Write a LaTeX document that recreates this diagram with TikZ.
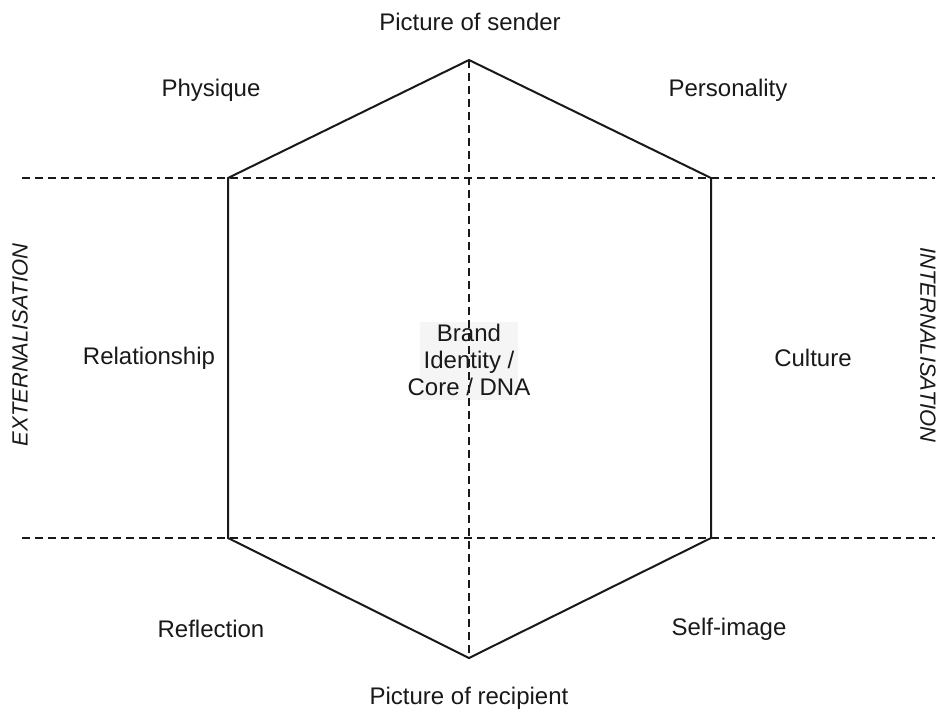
\documentclass[tikz,border=0pt]{standalone}
\usepackage{fontspec}
\setmainfont{Liberation Sans}
\begin{document}
\begin{tikzpicture}[x=1pt,y=-1pt,
  lbl/.style={font=\fontsize{24}{28}\selectfont, text=black!90, inner sep=0pt},
  side/.style={font=\fontsize{22}{26}\selectfont\itshape, text=black!90, inner sep=0pt},
  hexline/.style={line width=2pt, black!90, line join=miter},
  guide/.style={line width=1.7pt, black!90, dash pattern=on 8pt off 5pt}]
\useasboundingbox (0,0) rectangle (943,716);

% hexagon corners
\coordinate (T) at (469,60);
\coordinate (UR) at (711,178);
\coordinate (LR) at (711,538);
\coordinate (B) at (469,658);
\coordinate (LL) at (228,538);
\coordinate (UL) at (228,178);

% guide line ends
\coordinate (gl1) at (22,178);
\coordinate (gr1) at (935,178);
\coordinate (gl2) at (22,538);
\coordinate (gr2) at (935,538);

% core box behind the centre label
\fill[black!4] (420,322) rectangle (518,400);

% dashed guides
\draw[guide] (gl1) -- (gr1);
\draw[guide] (gl2) -- (gr2);
\draw[guide] (T) -- (B);

% hexagon
\draw[hexline] (T) -- (UR) -- (LR) -- (B) -- (LL) -- (UL) -- cycle;

% centre label
\node[lbl, align=center, font=\fontsize{24}{27}\selectfont] (core) at (469,360) {Brand\\Identity /\\Core / DNA};

% facet labels
\node[lbl] (sender) at (470,22) {Picture of sender};
\node[lbl] (physique) at (211,90) {Physique};
\node[lbl] (personality) at (728,90) {Personality};
\node[lbl] (relationship) at (149,358) {Relationship};
\node[lbl] (culture) at (813,358) {Culture};
\node[lbl] (reflection) at (211,629) {Reflection};
\node[lbl] (selfimage) at (729,629) {Self-image};
\node[lbl] (recipient) at (469,698) {Picture of recipient};

% side labels
\node[side, rotate=90] (ext) at (20,345) {EXTERNALISATION};
\node[side, rotate=-90] (int) at (928,345) {INTERNALISATION};
\end{tikzpicture}
\end{document}
